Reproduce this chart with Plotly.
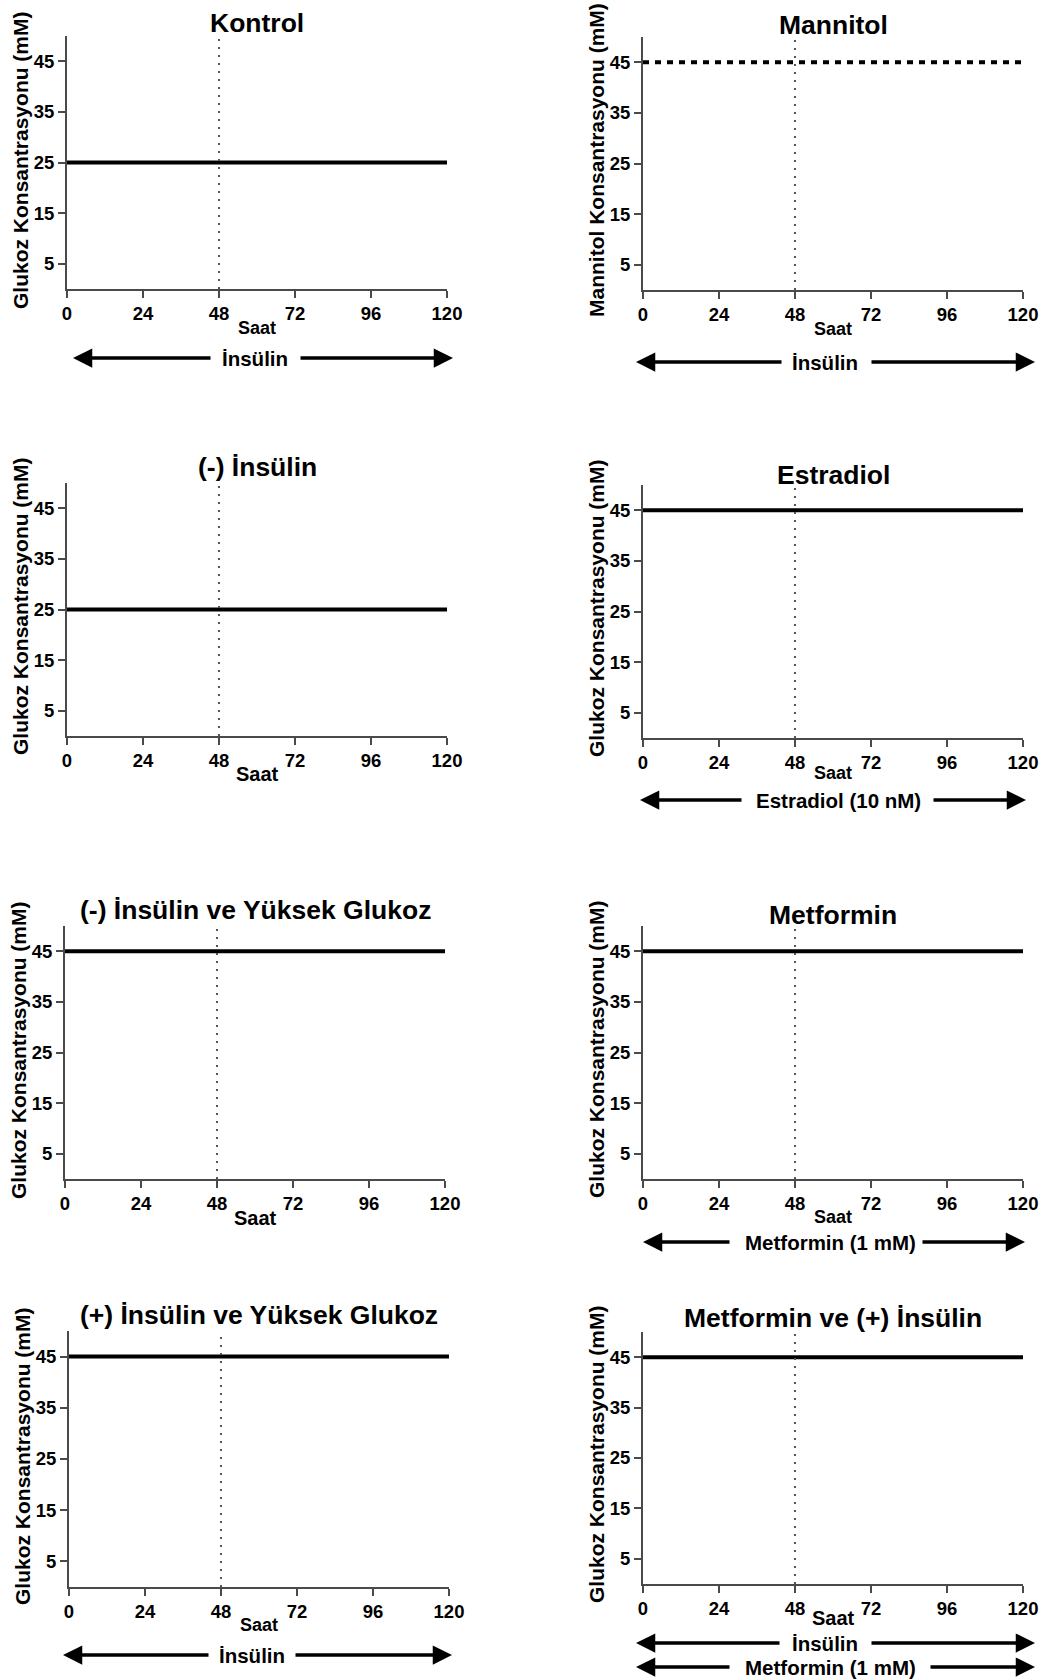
import plotly.graph_objects as go

# ---------------- data ----------------
panel_titles = ["Kontrol", "Mannitol", "(-) İnsülin", "Estradiol",
                "(-) İnsülin ve Yüksek Glukoz", "Metformin",
                "(+) İnsülin ve Yüksek Glukoz", "Metformin ve (+) İnsülin"]
y_titles = ["Glukoz Konsantrasyonu (mM)", "Mannitol Konsantrasyonu (mM)",
            "Glukoz Konsantrasyonu (mM)", "Glukoz Konsantrasyonu (mM)",
            "Glukoz Konsantrasyonu (mM)", "Glukoz Konsantrasyonu (mM)",
            "Glukoz Konsantrasyonu (mM)", "Glukoz Konsantrasyonu (mM)"]
time_hours = [0, 120]
concentration_levels = [25, 45, 25, 45, 45, 45, 45, 45]
switch_hour = 48
x_ticks = [0, 24, 48, 72, 96, 120]
y_ticks = [5, 15, 25, 35, 45]
x_label = "Saat"
treatment_labels = [["İnsülin"], ["İnsülin"], [], ["Estradiol (10 nM)"], [],
                    ["Metformin (1 mM)"], ["İnsülin"], ["İnsülin", "Metformin (1 mM)"]]

# ---------------- layout geometry (pixels) ----------------
W, H = 1046, 1680
geom = [
    dict(x0=67, x1=447, yb=289, yt=36, ty=23, sy=328, ss=18, yx=20, yy=160),
    dict(x0=643, x1=1023, yb=290, yt=37, ty=25, sy=329, ss=18, yx=596, yy=160),
    dict(x0=67, x1=447, yb=736, yt=483, ty=467, sy=774, ss=20, yx=20, yy=606),
    dict(x0=643, x1=1023, yb=738, yt=485, ty=475, sy=773, ss=18, yx=596, yy=608),
    dict(x0=65, x1=445, yb=1179, yt=926, ty=910, sy=1218, ss=20, yx=18, yy=1050),
    dict(x0=643, x1=1023, yb=1179, yt=926, ty=915, sy=1217, ss=18, yx=596, yy=1049),
    dict(x0=69, x1=449, yb=1587, yt=1331, ty=1315, sy=1625, ss=18, yx=22, yy=1456),
    dict(x0=643, x1=1023, yb=1584, yt=1332, ty=1318, sy=1618, ss=20, yx=596, yy=1454),
]
arrows = [
    [dict(y=358, lt=73, ltail=212, rtail=299, rt=453, cx=255)],
    [dict(y=362, lt=636, ltail=783, rtail=870, rt=1035, cx=825)],
    [],
    [dict(y=800, lt=640, ltail=743, rtail=932, rt=1026, cx=838)],
    [],
    [dict(y=1242, lt=643, ltail=731, rtail=921, rt=1025, cx=830)],
    [dict(y=1655, lt=63, ltail=210, rtail=294, rt=452, cx=252)],
    [dict(y=1643, lt=636, ltail=781, rtail=870, rt=1035, cx=825),
     dict(y=1667, lt=636, ltail=731, rtail=929, rt=1035, cx=830)],
]

FONT = "Liberation Sans, Arial, sans-serif"
AXIS_COLOR = "#4a4a4a"


def fx(p):
    return p / W


def fy(p):
    return 1 - p / H


fig = go.Figure()
annotations = []

for i, g in enumerate(geom):
    n = i + 1
    xa = "x" if n == 1 else f"x{n}"
    ya = "y" if n == 1 else f"y{n}"
    dash = "6px,6px" if panel_titles[i] == "Mannitol" else "solid"
    fig.add_trace(go.Scatter(
        x=time_hours, y=[concentration_levels[i]] * len(time_hours),
        mode="lines", line=dict(color="black", width=4, dash=dash),
        xaxis=xa, yaxis=ya, showlegend=False, hoverinfo="skip"))
    fig.add_trace(go.Scatter(
        x=[switch_hour, switch_hour], y=[0, 50],
        mode="lines", line=dict(color="#555555", width=2, dash="2px,6px"),
        xaxis=xa, yaxis=ya, showlegend=False, hoverinfo="skip"))

    axis_common = dict(showgrid=False, zeroline=False, showline=True,
                       automargin=False,
                       linecolor=AXIS_COLOR, linewidth=2, ticks="outside",
                       tickcolor=AXIS_COLOR, tickwidth=2, ticklen=7,
                       tickfont=dict(family=FONT, size=18.5, color="black", weight="bold"))
    fig.update_layout(**{
        ("xaxis" if n == 1 else f"xaxis{n}"): dict(
            domain=[fx(g["x0"]), fx(g["x1"])], range=[0, 120],
            tickvals=x_ticks, anchor=ya, **axis_common),
        ("yaxis" if n == 1 else f"yaxis{n}"): dict(
            domain=[fy(g["yb"]), fy(g["yt"])], range=[0, 50],
            tickvals=y_ticks, anchor=xa, **axis_common),
    })

    cx = fx((g["x0"] + g["x1"]) / 2)
    annotations.append(dict(
        text=panel_titles[i], x=cx, y=fy(g["ty"]), xref="paper", yref="paper",
        xanchor="center", yanchor="middle", showarrow=False,
        font=dict(family=FONT, size=26.5, color="black", weight="bold")))
    annotations.append(dict(
        text=x_label, x=cx, y=fy(g["sy"]), xref="paper", yref="paper",
        xanchor="center", yanchor="middle", showarrow=False,
        font=dict(family=FONT, size=g["ss"], color="black", weight="bold")))
    annotations.append(dict(
        text=y_titles[i], x=fx(g["yx"]), y=fy(g["yy"]), xref="paper", yref="paper",
        xanchor="center", yanchor="middle", showarrow=False, textangle=-90,
        font=dict(family=FONT, size=21, color="black", weight="bold")))

    for lbl, a in zip(treatment_labels[i], arrows[i]):
        annotations.append(dict(
            text=lbl, x=fx(a["cx"]), y=fy(a["y"]), xref="paper", yref="paper",
            xanchor="center", yanchor="middle", showarrow=False,
            font=dict(family=FONT, size=20.5, color="black", weight="bold")))
        for tip, tail in ((a["lt"], a["ltail"]), (a["rt"], a["rtail"])):
            annotations.append(dict(
                text="", x=fx(tip), y=fy(a["y"]), xref="paper", yref="paper",
                ax=tail - tip, ay=0, axref="pixel", ayref="pixel",
                showarrow=True, arrowhead=2, arrowsize=1.1, arrowwidth=3.5,
                arrowcolor="black"))

fig.update_layout(
    template="none",
    width=W, height=H, margin=dict(l=0, r=0, t=0, b=0, pad=0, autoexpand=False),
    paper_bgcolor="white", plot_bgcolor="white",
    annotations=annotations, showlegend=False,
)

fig.write_html("out.html", config={"displayModeBar": False},
               post_script="document.body.style.margin='0';")
